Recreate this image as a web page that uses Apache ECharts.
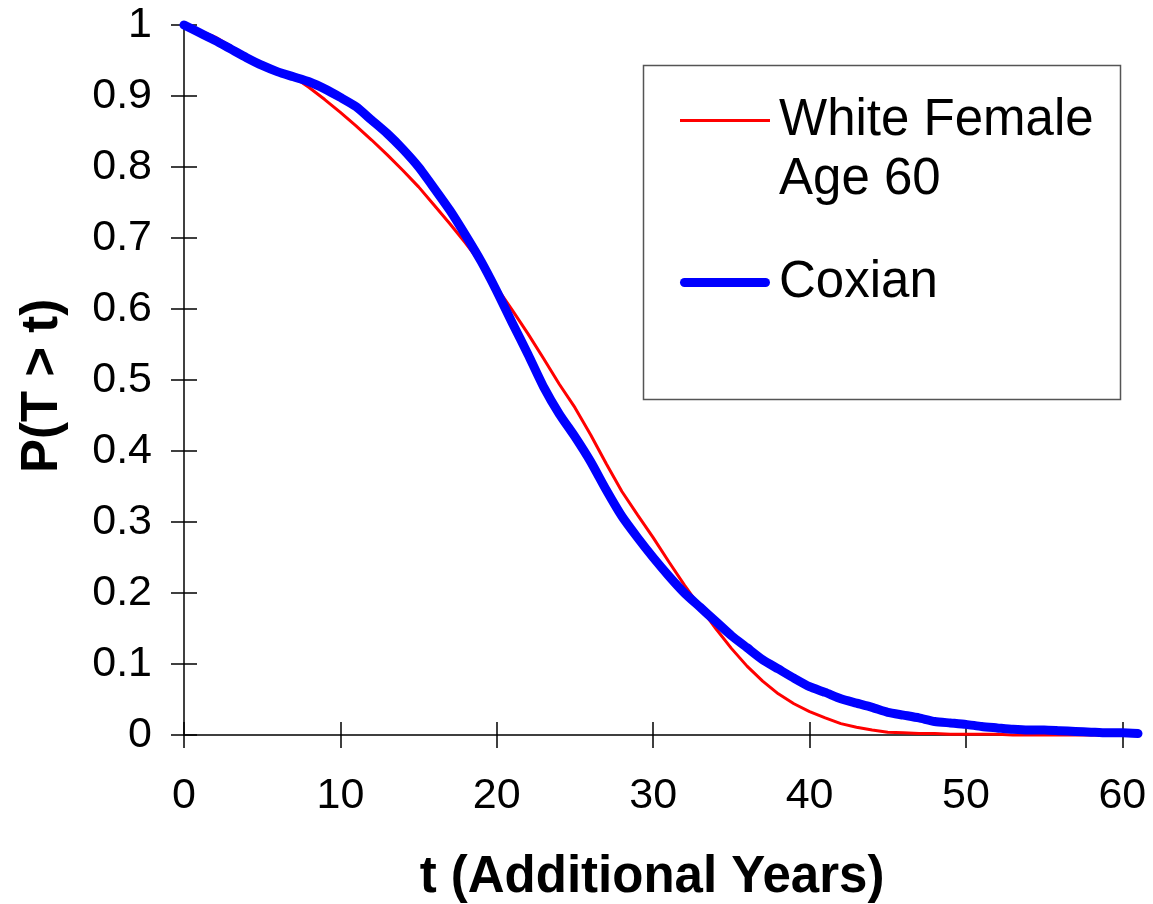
<!DOCTYPE html>
<html>
<head>
<meta charset="utf-8">
<script src="https://cdn.jsdelivr.net/npm/echarts@6/dist/echarts.min.js"></script>
<style>
html,body{margin:0;padding:0;background:#fff;}
#chart{width:1153px;height:904px;}
</style>
</head>
<body>
<div id="chart"></div>
<script>
const years = [];
for (let i = 0; i <= 61; i++) years.push(i);

const whiteFemale = [1.000,0.992,0.983,0.970,0.957,0.944,0.934,0.927,0.912,0.895,
  0.877,0.858,0.838,0.817,0.795,0.772,0.746,0.720,0.693,0.664,
  0.630,0.598,0.565,0.530,0.494,0.461,0.423,0.382,0.343,0.310,
  0.278,0.244,0.211,0.180,0.150,0.122,0.097,0.076,0.058,0.044,
  0.033,0.024,0.016,0.011,0.007,0.004,0.003,0.002,0.002,0.001,
  0.001,0.001,0.001,0.000,0.000,0.000,0.000,0.000,0.000,0.000,0.000];

const coxian = [1.000,0.989,0.978,0.966,0.954,0.943,0.934,0.927,0.920,0.910,
  0.898,0.885,0.866,0.847,0.825,0.800,0.770,0.739,0.704,0.667,
  0.625,0.580,0.536,0.490,0.452,0.420,0.385,0.345,0.308,0.278,
  0.250,0.224,0.200,0.180,0.160,0.140,0.123,0.106,0.093,0.080,
  0.068,0.060,0.051,0.045,0.039,0.032,0.028,0.024,0.019,0.017,
  0.015,0.012,0.010,0.008,0.007,0.007,0.006,0.005,0.004,0.003,0.003,0.002];

const xTicks = [0,10,20,30,40,50,60];
const seriesNames = ['White Female\nAge 60', 'Coxian'];
const xTitle = 't (Additional Years)';
const yTitle = 'P(T > t)';

const FONT = "'Liberation Sans', Arial, sans-serif";

function zip(xs, ys) { return ys.map((v, i) => [xs[i], v]); }

const chart = echarts.init(document.getElementById('chart'), null, {renderer: 'canvas'});

const axisLineStyle = {color: '#000', width: 1.5};

chart.setOption({
  backgroundColor: '#fff',
  animation: false,
  grid: {left: 184, top: 25, right: 15, bottom: 169, containLabel: false, outerBoundsMode: 'none'},
  xAxis: [
    {
      type: 'value', min: 0, max: 61, position: 'bottom',
      axisLine: {show: true, lineStyle: axisLineStyle},
      axisTick: {show: true, inside: false, length: 13, lineStyle: axisLineStyle, customValues: xTicks},
      axisLabel: {show: true, customValues: xTicks, margin: 40, fontSize: 43, fontFamily: FONT, color: '#000'},
      splitLine: {show: false},
      name: xTitle, nameLocation: 'middle', nameGap: 117,
      nameTextStyle: {fontSize: 51, fontWeight: 'bold', fontFamily: FONT, color: '#000', padding: [0, 18, 0, 0]}
    },
    {
      type: 'value', min: 0, max: 61, position: 'bottom',
      axisLine: {show: false},
      axisTick: {show: true, inside: true, length: 13, lineStyle: axisLineStyle, customValues: xTicks},
      axisLabel: {show: false},
      splitLine: {show: false}
    }
  ],
  yAxis: [
    {
      type: 'value', min: 0, max: 1, interval: 0.1, position: 'left',
      axisLine: {show: true, lineStyle: axisLineStyle},
      axisTick: {show: true, inside: false, length: 13, lineStyle: axisLineStyle},
      axisLabel: {show: true, margin: 32, fontSize: 43, fontFamily: FONT, color: '#000'},
      splitLine: {show: false},
      name: yTitle, nameLocation: 'middle', nameGap: 116, nameRotate: 90,
      nameTextStyle: {fontSize: 51, fontWeight: 'bold', fontFamily: FONT, color: '#000', padding: [0, 12, 0, 0]}
    },
    {
      type: 'value', min: 0, max: 1, interval: 0.1, position: 'left',
      axisLine: {show: false},
      axisTick: {show: true, inside: true, length: 13, lineStyle: axisLineStyle},
      axisLabel: {show: false},
      splitLine: {show: false}
    }
  ],
  legend: {
    orient: 'vertical', left: 680, top: 32, padding: 0,
    itemWidth: 90, itemHeight: 14, itemGap: 44,
    selectedMode: false,
    formatter: function (name) { return name.indexOf('\n') >= 0 ? ' \n' + name : name; },
    textStyle: {fontSize: 51, fontFamily: FONT, color: '#000', lineHeight: 59, padding: [0, 0, 0, 4]},
    data: [
      {name: seriesNames[0], icon: 'path://M0,0 L86,0 L86,3 L0,3 Z'},
      {name: seriesNames[1], icon: 'path://M4.5,0 L85.5,0 A4.5,4.5 0 0 1 85.5,9 L4.5,9 A4.5,4.5 0 0 1 4.5,0 Z'}
    ]
  },
  graphic: [
    {type: 'rect', left: 641, top: 63, z: -1, shape: {width: 477, height: 334},
     style: {fill: 'none', stroke: '#555', lineWidth: 1.5}}
  ],
  series: [
    {
      name: seriesNames[0], type: 'line', xAxisIndex: 0, yAxisIndex: 0,
      data: zip(years, whiteFemale), showSymbol: false, symbol: 'none', clip: false,
      lineStyle: {color: '#ff0000', width: 3}, itemStyle: {color: '#ff0000'}
    },
    {
      name: seriesNames[1], type: 'line', xAxisIndex: 0, yAxisIndex: 0,
      data: zip(years, coxian), showSymbol: false, symbol: 'none', clip: false, smooth: 0.2,
      lineStyle: {color: '#0000ff', width: 9, cap: 'round', join: 'round'}, itemStyle: {color: '#0000ff'}
    }
  ]
});
</script>
</body>
</html>
